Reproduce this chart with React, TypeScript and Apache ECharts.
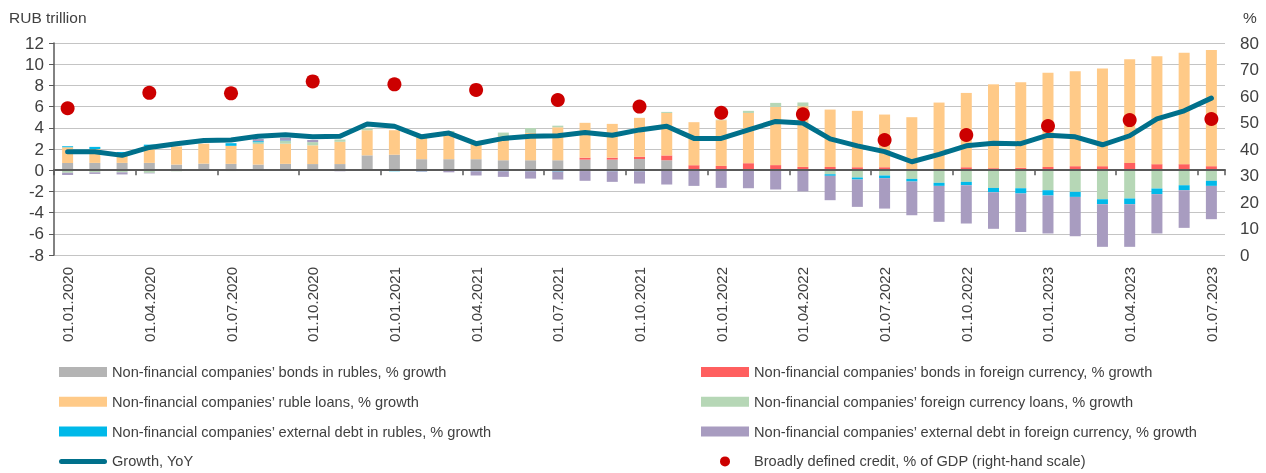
import React, { useEffect, useRef } from "react";
import * as echarts from "echarts";

const categories = [
  "01.01.2020","01.02.2020","01.03.2020","01.04.2020","01.05.2020","01.06.2020","01.07.2020","01.08.2020","01.09.2020","01.10.2020","01.11.2020","01.12.2020",
  "01.01.2021","01.02.2021","01.03.2021","01.04.2021","01.05.2021","01.06.2021","01.07.2021","01.08.2021","01.09.2021","01.10.2021","01.11.2021","01.12.2021",
  "01.01.2022","01.02.2022","01.03.2022","01.04.2022","01.05.2022","01.06.2022","01.07.2022","01.08.2022","01.09.2022","01.10.2022","01.11.2022","01.12.2022",
  "01.01.2023","01.02.2023","01.03.2023","01.04.2023","01.05.2023","01.06.2023","01.07.2023",
];

const bondsRub = [0.69,0.69,0.69,0.69,0.53,0.62,0.6,0.53,0.6,0.58,0.58,1.4,1.46,1.04,1.04,1.04,0.94,0.94,0.94,1.0,1.0,1.05,0.94,0,0,0,0,0,0,0,0,0,0,0,0,0,0,0,0,0,0,0,0];
const bondsFx = [0,0,0,0,0,0,0,0,0,0,0,0,0,0,0,0,0,0,0,0.18,0.18,0.22,0.45,0.47,0.4,0.66,0.48,0.31,0.3,0.28,0.28,0,0,0.28,0.19,0.22,0.31,0.38,0.38,0.69,0.57,0.57,0.38];
const loansRub = [1.48,1.31,0.91,1.57,1.71,1.88,1.7,1.94,1.9,1.77,2.1,2.37,2.31,2.1,2.46,1.71,2.26,2.58,3.11,3.29,3.19,3.67,4.01,4.06,4.32,4.74,5.49,5.73,5.42,5.32,4.97,5.0,6.38,7.01,7.91,8.08,8.89,8.96,9.21,9.78,10.18,10.5,10.97];
const loansFx = [-0.25,-0.2,-0.2,-0.25,-0.1,-0.05,-0.08,0.17,0.25,0.3,0.22,0.17,0,0,0.2,0,0.35,0.45,0.15,0,0,0,0.1,0,0.05,0.2,0.38,0.35,-0.38,-0.69,-0.5,-0.82,-1.19,-1.1,-1.67,-1.7,-1.89,-2.04,-2.74,-2.67,-1.73,-1.42,-1.0];
const extDebtRub = [0.1,0.2,0.12,0.15,0,0,0.25,0.1,0.05,-0.05,-0.05,-0.07,-0.1,-0.1,-0.05,-0.1,-0.1,-0.1,-0.12,-0.08,-0.1,-0.1,-0.05,-0.05,-0.05,0,0,-0.05,-0.15,-0.19,-0.25,-0.25,-0.29,-0.32,-0.41,-0.5,-0.5,-0.48,-0.47,-0.54,-0.53,-0.47,-0.48];
const extDebtFx = [-0.2,-0.15,-0.2,-0.05,0,0,0,0.2,0.25,0.2,-0.05,0,0,-0.05,-0.15,-0.4,-0.53,-0.69,-0.76,-0.92,-1.0,-1.16,-1.3,-1.43,-1.62,-1.7,-1.82,-1.95,-2.3,-2.58,-2.87,-3.18,-3.39,-3.61,-3.45,-3.62,-3.58,-3.71,-4.02,-4.02,-3.71,-3.55,-3.14];
const growthYoY = [1.75,1.75,1.4,2.15,2.5,2.8,2.85,3.2,3.35,3.15,3.2,4.35,4.15,3.15,3.5,2.5,3.0,3.2,3.25,3.55,3.3,3.8,4.15,3.0,3.0,3.8,4.6,4.45,2.95,2.3,1.75,0.8,1.5,2.3,2.55,2.5,3.3,3.15,2.4,3.25,4.85,5.6,6.8];

const creditDates = ["01.01.2020","01.04.2020","01.07.2020","01.10.2020","01.01.2021","01.04.2021","01.07.2021","01.10.2021","01.01.2022","01.04.2022","01.07.2022","01.10.2022","01.01.2023","01.04.2023","01.07.2023"];
const creditGdp = [55.4,61.2,61.0,65.5,64.4,62.3,58.5,56.0,53.7,53.1,43.4,45.3,48.7,50.9,51.3];

const seriesNames = [
  "Non-financial companies\u2019 bonds in rubles, % growth",
  "Non-financial companies\u2019 bonds in foreign currency, % growth",
  "Non-financial companies\u2019 ruble loans, % growth",
  "Non-financial companies\u2019 foreign currency loans, % growth",
  "Non-financial companies\u2019 external debt in rubles, % growth",
  "Non-financial companies\u2019 external debt in foreign currency, % growth",
  "Growth, YoY",
  "Broadly defined credit, % of GDP (right-hand scale)",
];

const FONT = "Liberation Sans, Arial, sans-serif";
const TEXT = "#404040";
const LINE_ICON = "path://M2.5,0 L45.5,0 A2.5,2.5 0 0 1 45.5,5 L2.5,5 A2.5,2.5 0 0 1 2.5,0 Z";
const DOT_ICON = "path://M0,5.5 A5.5,5.5 0 1 1 11,5.5 A5.5,5.5 0 1 1 0,5.5 Z";

export default function App() {
  const ref = useRef<HTMLDivElement>(null);
  useEffect(() => {
    if (!ref.current) return;
    const chart = echarts.init(ref.current, null, { renderer: "svg" });
    const barColors = ["#b4b4b4", "#ff5f5f", "#ffca88", "#b6d7b6", "#00b9e9", "#a89cc0"];
    const barData = [bondsRub, bondsFx, loansRub, loansFx, extDebtRub, extDebtFx];
    const bars = barData.map((d, i) => ({
      name: seriesNames[i],
      type: "bar",
      stack: "total",
      barWidth: 11,
      xAxisIndex: 0,
      yAxisIndex: 0,
      itemStyle: { color: barColors[i] },
      data: d,
      z: 2,
    }));
    const legendBase = {
      orient: "vertical",
      top: 359,
      height: 120,
      itemWidth: 48,
      itemHeight: 10,
      itemGap: 13.8,
      textStyle: { fontFamily: FONT, fontSize: 14.6, color: TEXT, lineHeight: 16 },
    };
    chart.setOption({
      animation: false,
      textStyle: { fontFamily: FONT, color: TEXT },
      grid: { left: 54, top: 43, width: 1171, height: 212, containLabel: false },
      graphic: [
        { type: "text", left: 9, top: 9, style: { text: "RUB trillion", font: `15.5px ${FONT}`, fill: TEXT } },
        { type: "text", left: 1243, top: 9, style: { text: "%", font: `15.5px ${FONT}`, fill: TEXT } },
      ],
      legend: [
        {
          ...legendBase,
          left: 54,
          data: [
            { name: seriesNames[0], icon: "rect" },
            { name: seriesNames[2], icon: "rect" },
            { name: seriesNames[4], icon: "rect" },
            { name: seriesNames[6], icon: LINE_ICON },
          ],
        },
        {
          ...legendBase,
          left: 696,
          data: [
            { name: seriesNames[1], icon: "rect" },
            { name: seriesNames[3], icon: "rect" },
            { name: seriesNames[5], icon: "rect" },
            { name: seriesNames[7], icon: DOT_ICON },
          ],
        },
      ],
      xAxis: [
        {
          type: "category",
          data: categories,
          position: "bottom",
          axisLine: { show: false, onZero: false },
          axisTick: { show: false },
          axisLabel: { interval: 2, rotate: 90, margin: 12, fontSize: 15, color: TEXT, fontFamily: FONT },
          splitLine: { show: false },
        },
        {
          type: "category",
          data: categories,
          position: "bottom",
          axisLine: { show: true, onZero: true, onZeroAxisIndex: 0, lineStyle: { color: "#595959", width: 2 } },
          axisTick: { show: true, interval: 2, length: 5, lineStyle: { color: "#595959", width: 1.5 } },
          axisLabel: { show: false },
          splitLine: { show: false },
          z: 5,
        },
      ],
      yAxis: [
        {
          type: "value",
          min: -8,
          max: 12,
          interval: 2,
          axisLine: { show: true, lineStyle: { color: "#595959", width: 1.5 } },
          axisTick: { show: true, length: 5, lineStyle: { color: "#595959" } },
          axisLabel: { fontSize: 17, color: TEXT, margin: 10, fontFamily: FONT },
          splitLine: { show: true, lineStyle: { color: "#c4c4c4", width: 1.2 } },
        },
        {
          type: "value",
          min: 0,
          max: 80,
          interval: 10,
          position: "right",
          axisLine: { show: false },
          axisTick: { show: false },
          axisLabel: { fontSize: 17, color: TEXT, margin: 15, fontFamily: FONT },
          splitLine: { show: false },
        },
      ],
      series: [
        ...bars,
        {
          name: seriesNames[6],
          type: "line",
          xAxisIndex: 0,
          yAxisIndex: 0,
          data: growthYoY,
          symbol: "none",
          lineStyle: { color: "#00708b", width: 5, cap: "round", join: "round" },
          itemStyle: { color: "#00708b" },
          z: 4,
        },
        {
          name: seriesNames[7],
          type: "scatter",
          xAxisIndex: 0,
          yAxisIndex: 1,
          symbol: "circle",
          symbolSize: 14,
          itemStyle: { color: "#cc0000", opacity: 1 },
          data: creditDates.map((d, i) => [d, creditGdp[i]]),
          z: 6,
        },
      ],
    });
    return () => chart.dispose();
  }, []);
  return <div ref={ref} style={{ position: "fixed", left: 0, top: 0, width: 1266, height: 473 }} />;
}
